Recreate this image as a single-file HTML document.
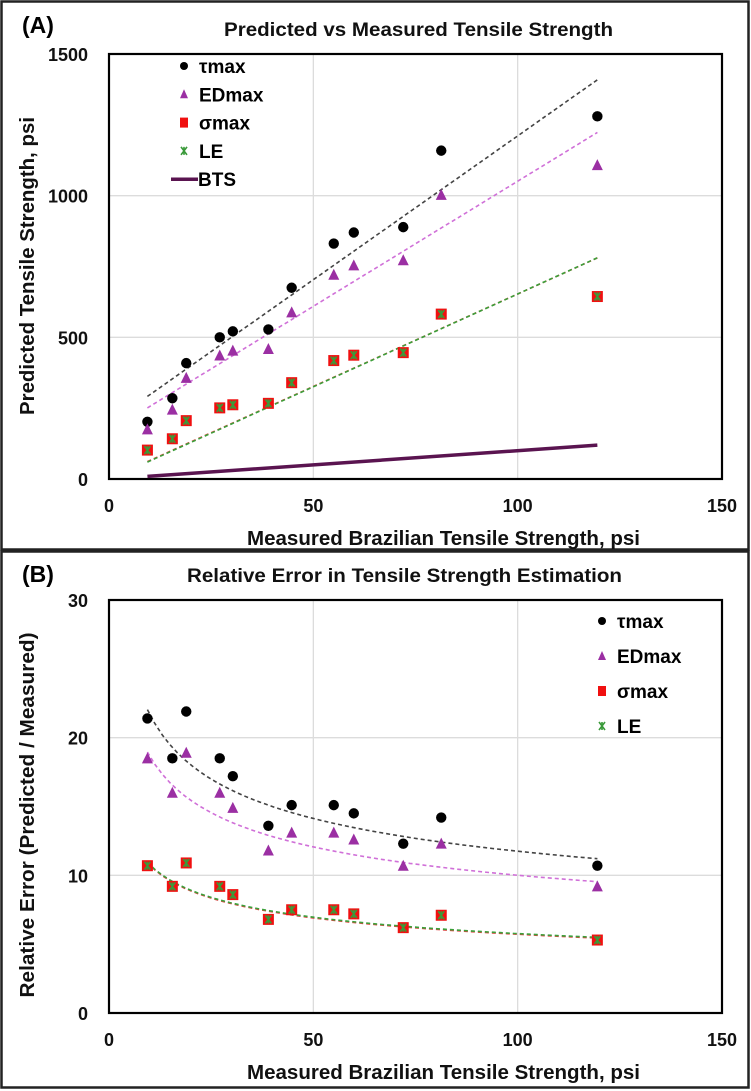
<!DOCTYPE html>
<html><head><meta charset="utf-8">
<style>
html,body{margin:0;padding:0;background:#fff;}
svg{display:block;font-family:"Liberation Sans",sans-serif;font-weight:bold;}
</style></head>
<body>
<svg id="fig" width="751" height="1091" viewBox="0 0 751 1091" xmlns="http://www.w3.org/2000/svg">
<rect x="1.5" y="1.5" width="747" height="548" fill="none" stroke="#222" stroke-width="2.5"/>
<rect x="1.5" y="551.5" width="747" height="536" fill="none" stroke="#222" stroke-width="2.5"/>
<g id="pa"></g>
<g id="pb"></g>
</svg>
<script>
// Shared x data (Measured Brazilian Tensile Strength, psi)
const measured = [9.4, 15.5, 18.9, 27.1, 30.3, 39, 44.7, 55, 59.9, 72, 81.3, 119.5];
// Panel A: predicted strengths
const tauPred = [202, 285, 409, 500, 521, 528, 675, 831, 870, 889, 1159, 1280];
const edPred = [175, 245, 357, 436, 453, 459, 588, 721, 754, 772, 1003, 1108];
const sigmaPred = [102, 142, 206, 251, 262, 267, 340, 418, 437, 446, 582, 644];
const lePred = [102, 142, 206, 251, 262, 267, 340, 418, 437, 446, 582, 644];
// Linear trendlines [slope, intercept]
const tauTrendA = [10.15, 196];
const edTrendA = [8.83, 168];
const sigmaTrendA = [6.53, 0];
const leTrendA = [6.55, -2];
// Panel B: relative error
const tauErr = [21.4, 18.5, 21.9, 18.5, 17.2, 13.6, 15.1, 15.1, 14.5, 12.3, 14.2, 10.7];
const edErr = [18.5, 16.0, 18.9, 16.0, 14.9, 11.8, 13.1, 13.1, 12.6, 10.7, 12.3, 9.2];
const sigmaErr = [10.7, 9.2, 10.9, 9.2, 8.6, 6.8, 7.5, 7.5, 7.2, 6.2, 7.1, 5.3];
const leErr = [10.7, 9.2, 10.9, 9.2, 8.6, 6.8, 7.5, 7.5, 7.2, 6.2, 7.1, 5.3];
// Power trendlines [a, b]: y = a*x^b
const tauTrendB = [40.0, -0.266];
const edTrendB = [34.7, -0.27];
const sigmaTrendB = [20.1, -0.273];
const xTicks = [0, 50, 100, 150];
const yTicksA = [0, 500, 1000, 1500];
const yTicksB = [0, 10, 20, 30];

const NS = "http://www.w3.org/2000/svg";
function mk(parent, tag, attrs, text) {
  const e = document.createElementNS(NS, tag);
  for (const k in attrs) e.setAttribute(k, attrs[k]);
  if (text !== undefined) e.textContent = text;
  parent.appendChild(e);
  return e;
}
const X0 = 109, X1 = 722;
function xs(v) { return X0 + (v - 0) / 150 * (X1 - X0); }

function marker(g, kind, cx, cy) {
  let e;
  if (kind === 'tau') {
    e = mk(g, 'circle', {cx: cx, cy: cy, r: 5.2, fill: '#000'});
  } else if (kind === 'ed') {
    e = mk(g, 'polygon', {points: `${cx},${cy-6} ${cx+5.5},${cy+5} ${cx-5.5},${cy+5}`, fill: '#9b2fa3'});
  } else if (kind === 'sigma') {
    e = mk(g, 'rect', {x: cx-5.5, y: cy-5.5, width: 11, height: 11, fill: '#f01010'});
  } else {
    e = mk(g, 'path', {d: `M${cx-3},${cy-4}L${cx+3},${cy+4}M${cx+3},${cy-4}L${cx-3},${cy+4}M${cx},${cy-4}L${cx},${cy+4}`, stroke: '#3a9a3a', 'stroke-width': 1.6, fill: 'none'});
  }
  return e;
}

function panel(g, cfg) {
  const {Y0, Y1, ymax, yTicks} = cfg;
  const ys = v => Y0 - v / ymax * (Y0 - Y1);
  for (const t of xTicks) {
    if (t > 0 && t < 150) {
      const l = mk(g, 'line', {x1: xs(t), x2: xs(t), y1: Y1, y2: Y0, stroke: '#dcdcdc', 'stroke-width': 1.3});
      
      
    }
  }
  for (const t of yTicks) {
    if (t > 0 && t < ymax) {
      const l = mk(g, 'line', {x1: X0, x2: X1, y1: ys(t), y2: ys(t), stroke: '#dcdcdc', 'stroke-width': 1.3});
      
      
    }
  }
  const fr = mk(g, 'rect', {x: X0, y: Y1, width: X1 - X0, height: Y0 - Y1, fill: 'none', stroke: '#000', 'stroke-width': 2.2});
  
  
  for (const t of xTicks) {
    const tx = mk(g, 'text', {x: xs(t), y: Y0 + 33, 'text-anchor': 'middle', 'font-size': 18, fill: '#111'}, String(t));
    
    
  }
  for (const t of yTicks) {
    const ty = mk(g, 'text', {x: 88, y: ys(t) + 7, 'text-anchor': 'end', 'font-size': 18, fill: '#111'}, String(t));
    
    
  }
  const pl = mk(g, 'text', {x: 22, y: cfg.tagY, 'font-size': 23, fill: '#000'}, cfg.tag);
  
  
  const ti = mk(g, 'text', {x: cfg.titleX, y: cfg.titleY, 'font-size': 19, fill: '#111', textLength: cfg.titleW, lengthAdjust: 'spacingAndGlyphs'}, cfg.title);
  
  
  const xt = mk(g, 'text', {x: 247, y: Y0 + 66, 'font-size': 20, fill: '#111', textLength: 393, lengthAdjust: 'spacingAndGlyphs'}, 'Measured Brazilian Tensile Strength, psi');
  
  
  const yc = cfg.ytitleC;
  const yt = mk(g, 'text', {x: yc, y: 34, 'text-anchor': 'middle', 'font-size': 20, fill: '#111', textLength: cfg.ytitleW, lengthAdjust: 'spacingAndGlyphs', transform: `translate(0 ${2*yc}) rotate(-90 ${yc} 0) translate(${-yc} ${-yc})`}, cfg.ytitle);
  yt.setAttribute('transform', `rotate(-90 34 ${yc}) translate(${34 - yc} ${yc - 34})`);
  
  
  return ys;
}

function trendPath(g, fn, ys, color, name) {
  let d = '';
  const xa = measured[0], xb = measured[measured.length - 1];
  for (let i = 0; i <= 60; i++) {
    const x = xa + (xb - xa) * i / 60;
    d += (i ? 'L' : 'M') + xs(x).toFixed(1) + ',' + ys(fn(x)).toFixed(1);
  }
  const p = mk(g, 'path', {d: d, fill: 'none', stroke: color, 'stroke-width': 1.6, 'stroke-dasharray': '4,3'});
  
  
}

function series(g, vals, kind, ys, name) {
  const sg = mk(g, 'g', {});
  
  
  vals.forEach((v, i) => {
    const m = marker(sg, kind, xs(measured[i]), ys(v));
    
    
  });
}

function legend(g, items, lx, ly0, dy) {
  items.forEach((it, i) => {
    const y = ly0 + i * dy;
    const lg = mk(g, 'g', {});
    
    
    if (it[0] === 'bts') {
      mk(lg, 'line', {x1: lx - 13, x2: lx + 14, y1: y - 7, y2: y - 7, stroke: '#5a1450', 'stroke-width': 3.5});
      mk(lg, 'text', {x: lx + 14, y: y, 'font-size': 19, fill: '#000'}, it[1]);
    } else {
      const my = y - 7;
      if (it[0] === 'le') marker(lg, 'le', lx, my); else {
        if (it[0] === 'tau') mk(lg, 'circle', {cx: lx, cy: my, r: 4, fill: '#000'});
        else if (it[0] === 'ed') mk(lg, 'polygon', {points: `${lx},${my-5} ${lx+4},${my+4} ${lx-4},${my+4}`, fill: '#9b2fa3'});
        else mk(lg, 'rect', {x: lx - 4, y: my - 5, width: 8, height: 10, fill: '#f01010'});
      }
      mk(lg, 'text', {x: lx + 15, y: y, 'font-size': 19, fill: '#000'}, it[1]);
    }
  });
}

// Panel A
const ga = document.getElementById('pa');
const ysA = panel(ga, {Y0: 479, Y1: 54, ymax: 1500, yTicks: yTicksA, tag: '(A)', tagY: 33, title: 'Predicted vs Measured Tensile Strength', titleX: 224, titleW: 389, titleY: 36, ytitle: 'Predicted Tensile Strength, psi', ytitleC: 266, ytitleW: 298});
trendPath(ga, x => tauTrendA[0] * x + tauTrendA[1], ysA, '#444', 'tau-trendline');
trendPath(ga, x => edTrendA[0] * x + edTrendA[1], ysA, '#d070d8', 'ed-trendline');
trendPath(ga, x => sigmaTrendA[0] * x + sigmaTrendA[1], ysA, '#e04040', 'sigma-trendline');
trendPath(ga, x => leTrendA[0] * x + leTrendA[1], ysA, '#3aa03a', 'le-trendline');
const bts = mk(ga, 'line', {x1: xs(measured[0]), y1: ysA(measured[0]), x2: xs(measured[measured.length-1]), y2: ysA(measured[measured.length-1]), stroke: '#5a1450', 'stroke-width': 3.5});


series(ga, tauPred, 'tau', ysA, 'tau-series');
series(ga, edPred, 'ed', ysA, 'ed-series');
series(ga, sigmaPred, 'sigma', ysA, 'sigma-series');
series(ga, lePred, 'le', ysA, 'le-series');
legend(ga, [['tau','τmax'],['ed','EDmax'],['sigma','σmax'],['le','LE'],['bts','BTS']], 184, 73, 28.3);

// Panel B
const gb = document.getElementById('pb');
const ysB = panel(gb, {Y0: 1013, Y1: 600, ymax: 30, yTicks: yTicksB, tag: '(B)', tagY: 582, title: 'Relative Error in Tensile Strength Estimation', titleX: 187, titleW: 435, titleY: 582, ytitle: 'Relative Error (Predicted / Measured)', ytitleC: 815, ytitleW: 365});
trendPath(gb, x => tauTrendB[0] * Math.pow(x, tauTrendB[1]), ysB, '#444', 'tau-trendline');
trendPath(gb, x => edTrendB[0] * Math.pow(x, edTrendB[1]), ysB, '#d070d8', 'ed-trendline');
trendPath(gb, x => sigmaTrendB[0] * Math.pow(x, sigmaTrendB[1]), ysB, '#e04040', 'sigma-trendline');
trendPath(gb, x => sigmaTrendB[0] * Math.pow(x, sigmaTrendB[1]) + 0.05, ysB, '#3aa03a', 'le-trendline');
series(gb, tauErr, 'tau', ysB, 'tau-series');
series(gb, edErr, 'ed', ysB, 'ed-series');
series(gb, sigmaErr, 'sigma', ysB, 'sigma-series');
series(gb, leErr, 'le', ysB, 'le-series');
legend(gb, [['tau','τmax'],['ed','EDmax'],['sigma','σmax'],['le','LE']], 602, 628, 35);
</script>
</body></html>
